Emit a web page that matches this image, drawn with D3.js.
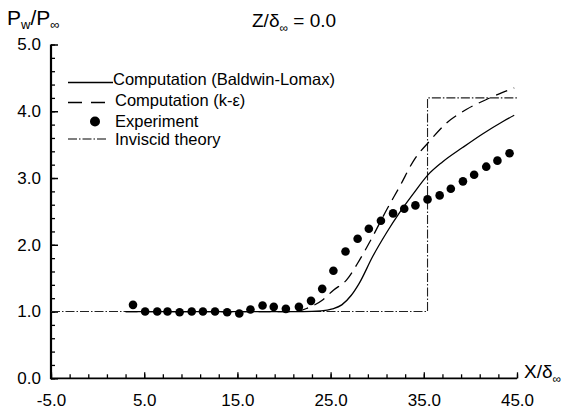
<!DOCTYPE html>
<html>
<head>
<meta charset="utf-8">
<script src="https://cdn.jsdelivr.net/npm/d3@7"></script>
<style>
    body { margin: 0; background: #fff; }
    svg  { font-family: "Liberation Sans", Arial, Helvetica, sans-serif; }
</style>
</head>
<body>
<svg id="chart" width="568" height="412"></svg>
<script>
/* ========================= DATA ======================== */
/* ======================================================= */

// experiment, x/delta and Pw/Pinf
const expX = [3.8, 5.1, 6.4, 7.5, 8.8, 10.1, 11.3, 12.6, 13.9, 15.2, 16.4,
              17.7, 18.9, 20.2, 21.6, 22.9, 24.1, 25.3, 26.6, 27.9, 29.1,
              30.4, 31.7, 32.9, 34.1, 35.4, 36.7, 37.9, 39.2, 40.4, 41.7,
              42.9, 44.2];
const expY = [1.10, 1.00, 1.00, 1.00, 0.99, 1.00, 1.00, 1.00, 0.99, 0.97, 1.03,
              1.09, 1.07, 1.04, 1.07, 1.16, 1.34, 1.61, 1.90, 2.09, 2.24,
              2.36, 2.47, 2.54, 2.59, 2.68, 2.74, 2.84, 2.95, 3.05, 3.17,
              3.26, 3.37];

// Baldwin-Lomax computation
const blX = [3.0, 22.0, 24.0, 25.2, 26.2, 27.2, 28.1, 29.5, 31.0, 32.4, 33.8,
             35.4, 37.0, 39.2, 41.3, 43.4, 44.7];
const blY = [1.00, 1.00, 1.01, 1.04, 1.10, 1.24, 1.43, 1.82, 2.18, 2.48, 2.75,
             3.04, 3.24, 3.46, 3.66, 3.84, 3.94];

// k-epsilon computation
const keX = [3.0, 20.5, 21.6, 22.5, 24.1, 25.3, 26.7, 28.1, 29.5, 31.0, 32.4,
             34.0, 35.6, 37.4, 39.6, 42.1, 43.4, 44.7];
const keY = [1.00, 1.00, 1.01, 1.05, 1.17, 1.32, 1.47, 1.77, 2.12, 2.52, 2.87,
             3.28, 3.55, 3.82, 4.03, 4.20, 4.28, 4.35];

// inviscid theory (step)
const invX = [-5.0, 35.4, 35.4, 45.0];
const invY = [1.00, 1.00, 4.20, 4.20];

const xTickLabels = [-5, 5, 15, 25, 35, 45];
const yTickLabels = [0, 1, 2, 3, 4, 5];
const legendLabels = ["Computation (Baldwin-Lomax)", "Computation (k-\u03b5)",
                      "Experiment", "Inviscid theory"];

/* ======================================================= */
/* ======================== SETUP ======================== */

const svg = d3.select("#chart");

const x = d3.scaleLinear()
            .domain([-5, 45])
            .range([51, 517]);
const y = d3.scaleLinear()
            .domain([0, 5])
            .range([378.3, 44.5]);

const zip = (xs, ys) => xs.map((v, i) => [v, ys[i]]);
const fmt = d => d.toFixed(1);   // plain hyphen for negatives, like the figure

const line = d3.line()
               .x(d => x(d[0]))
               .y(d => y(d[1]));

const curve = d3.line()
                .x(d => x(d[0]))
                .y(d => y(d[1]))
                .curve(d3.curveMonotoneX);

/* ======================== AXES ========================= */

// y axis: minor ticks every 0.2, labelled ticks every 1.0, all pointing inward
svg.append("g")
   .attr("transform", `translate(${x(-5)},0)`)
   .call(d3.axisLeft(y).tickValues(d3.range(0, 5.01, 0.2)).tickSize(-4).tickFormat(""))
   .call(g => g.select(".domain").remove())
   .selectAll("line").attr("stroke", "#000").attr("stroke-width", 1.3);

svg.append("g")
   .attr("transform", `translate(${x(-5)},0)`)
   .call(d3.axisLeft(y).tickValues(yTickLabels).tickSize(-7).tickPadding(10)
           .tickFormat(fmt))
   .call(g => g.select(".domain").remove())
   .call(g => g.selectAll("line").attr("stroke", "#000").attr("stroke-width", 1.5))
   .call(g => g.selectAll("text").attr("font-size", 17).attr("fill", "#000")
                .attr("font-family", null));

svg.append("line")
   .attr("x1", x(-5)).attr("x2", x(-5))
   .attr("y1", y(0) + 1).attr("y2", y(5))
   .attr("stroke", "#000").attr("stroke-width", 2.2);

// x axis: ticks every 2, labelled every 10
svg.append("g")
   .attr("transform", `translate(0,${y(0)})`)
   .call(d3.axisBottom(x).tickValues(d3.range(-5, 45.01, 2)).tickSize(-4).tickFormat(""))
   .call(g => g.select(".domain").remove())
   .selectAll("line").attr("stroke", "#000").attr("stroke-width", 1.3);

svg.append("g")
   .attr("transform", `translate(0,${y(0)})`)
   .call(d3.axisBottom(x).tickValues(xTickLabels).tickSize(-6).tickPadding(16)
           .tickFormat(fmt))
   .call(g => g.select(".domain").remove())
   .call(g => g.selectAll("line").attr("stroke", "#000").attr("stroke-width", 1.3))
   .call(g => g.selectAll("text").attr("font-size", 17).attr("fill", "#000")
                .attr("font-family", null));

svg.append("line")
   .attr("x1", x(-5)).attr("x2", x(45))
   .attr("y1", y(0)).attr("y2", y(0))
   .attr("stroke", "#000").attr("stroke-width", 1.8);

/* ======================== TITLES ======================= */

const yLabel = svg.append("text")
                  .attr("x", 7).attr("y", 25)
                  .attr("font-size", 21);
yLabel.append("tspan").text("P");
yLabel.append("tspan").attr("font-size", 13).attr("dy", 4).text("w");
yLabel.append("tspan").attr("dy", -4).text("/P");
yLabel.append("tspan").attr("font-size", 13).attr("dy", 4).text("\u221e");

const title = svg.append("text")
                 .attr("x", 252).attr("y", 27)
                 .attr("font-size", 19);
title.append("tspan").text("Z/\u03b4");
title.append("tspan").attr("font-size", 12).attr("dy", 5).text("\u221e");
title.append("tspan").attr("dy", -5).text(" = 0.0");

const xLabel = svg.append("text")
                  .attr("x", 524).attr("y", 378)
                  .attr("font-size", 19);
xLabel.append("tspan").text("X/\u03b4");
xLabel.append("tspan").attr("font-size", 12).attr("dy", 5).text("\u221e");

/* ======================== SERIES ======================= */

svg.append("path")
   .datum(zip(invX, invY))
   .attr("d", line)
   .attr("fill", "none")
   .attr("stroke", "#222")
   .attr("stroke-width", 1.1)
   .attr("stroke-dasharray", "9,2,1.5,2");

svg.append("path")
   .datum(zip(blX, blY))
   .attr("d", curve)
   .attr("fill", "none")
   .attr("stroke", "#000")
   .attr("stroke-width", 1.3);

svg.append("path")
   .datum(zip(keX, keY))
   .attr("d", curve)
   .attr("fill", "none")
   .attr("stroke", "#000")
   .attr("stroke-width", 1.3)
   .attr("stroke-dasharray", "12,7");

svg.append("g")
   .selectAll("circle")
   .data(zip(expX, expY))
   .join("circle")
   .attr("cx", d => x(d[0]))
   .attr("cy", d => y(d[1]))
   .attr("r", 4.3)
   .attr("fill", "#000");

/* ======================== LEGEND ======================= */

const legendRows = [
    { y: 82.5, base: 85,    tx: 113, draw: "solid" },
    { y: 102.5, base: 105.5, tx: 115, draw: "dash" },
    { y: 121.5, base: 126.5, tx: 115, draw: "dot" },
    { y: 139,  base: 145,   tx: 115, draw: "dashdot" }
];

const legend = svg.append("g").attr("id", "legend");

legendRows.forEach((row, i) => {
    if (row.draw === "dot") {
        legend.append("circle")
              .attr("cx", 95).attr("cy", row.y).attr("r", 5)
              .attr("fill", "#000");
    } else {
        legend.append("line")
              .attr("x1", 68).attr("x2", row.draw === "solid" ? 113 : 108)
              .attr("y1", row.y).attr("y2", row.y)
              .attr("stroke", "#000")
              .attr("stroke-width", row.draw === "dashdot" ? 1.1 : 1.3)
              .attr("stroke-dasharray", row.draw === "dash" ? "14,9" :
                                        row.draw === "dashdot" ? "9,2,1.5,2" : null);
    }
    legend.append("text")
          .attr("x", row.tx).attr("y", row.base)
          .attr("font-size", 16.5)
          .text(legendLabels[i]);
});
</script>
</body>
</html>
